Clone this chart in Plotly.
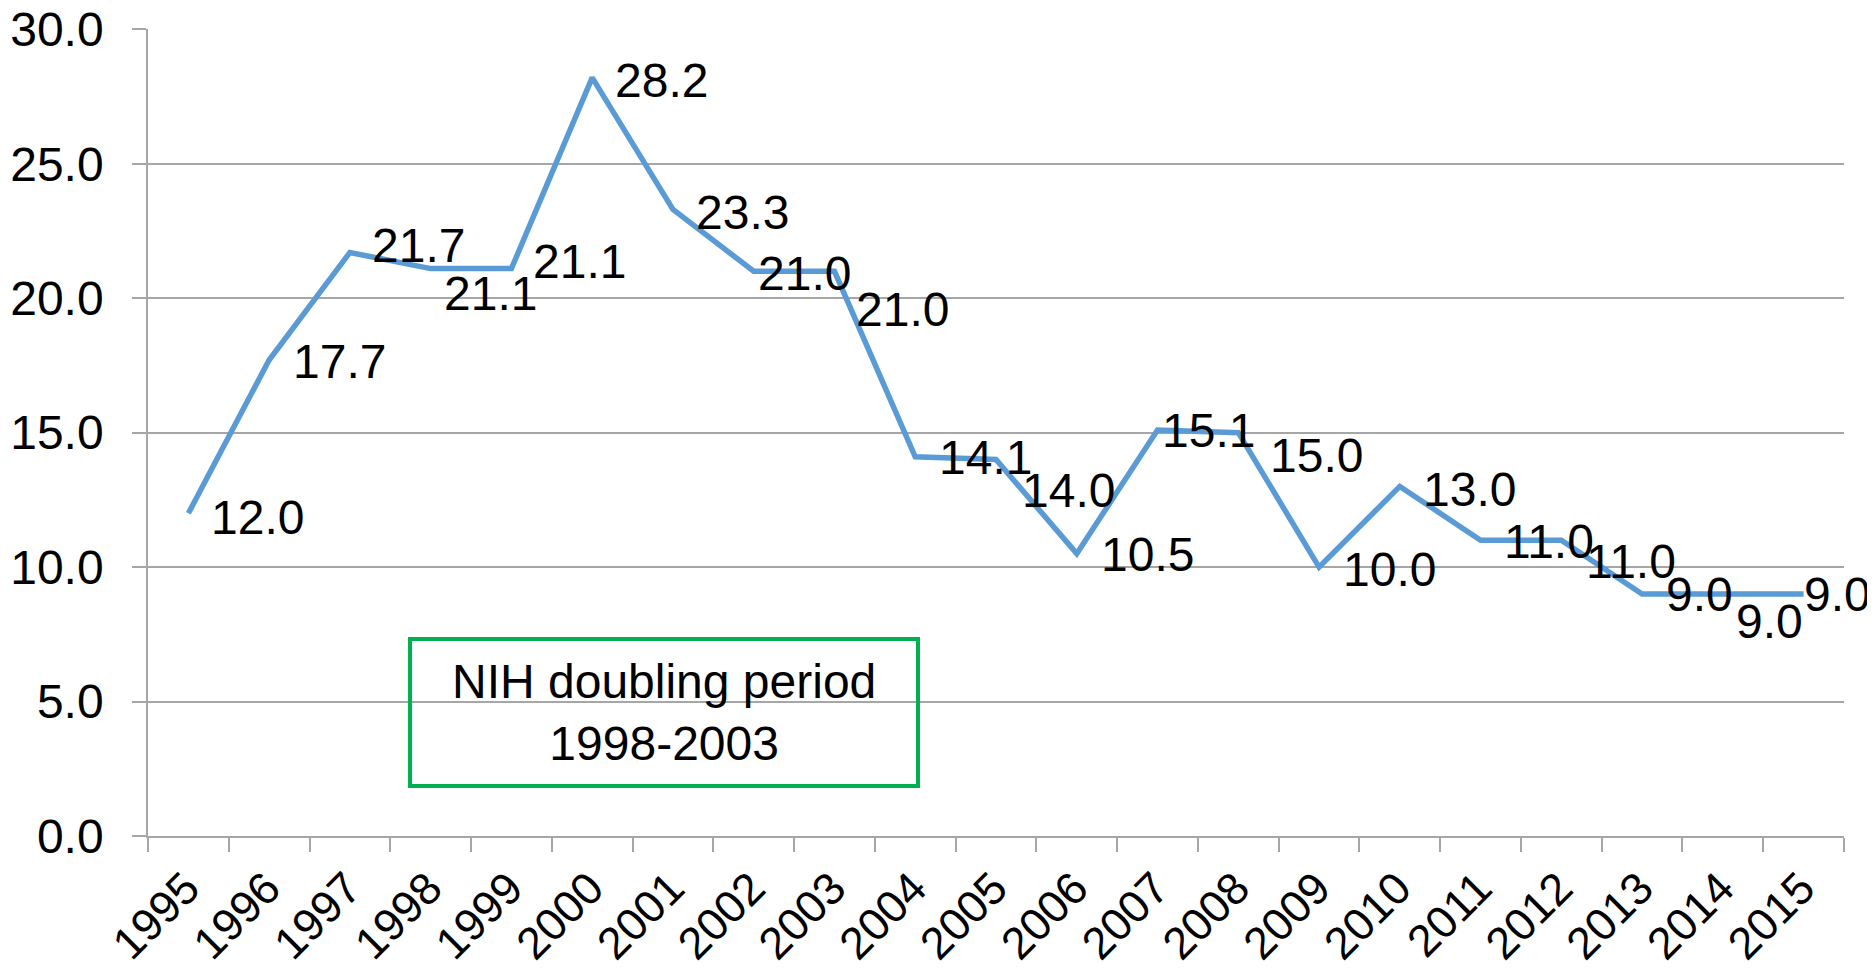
import plotly.graph_objects as go

years = ["1995", "1996", "1997", "1998", "1999", "2000", "2001", "2002", "2003", "2004",
         "2005", "2006", "2007", "2008", "2009", "2010", "2011", "2012", "2013", "2014", "2015"]
values = [12.0, 17.7, 21.7, 21.1, 21.1, 28.2, 23.3, 21.0, 21.0, 14.1,
          14.0, 10.5, 15.1, 15.0, 10.0, 13.0, 11.0, 11.0, 9.0, 9.0, 9.0]
y_ticks = [0, 5, 10, 15, 20, 25, 30]
box_text = "NIH doubling period<br>1998-2003"

# label placement offsets (pixels): right of the point, positive dy = down
label_dx = [21, 22, 20, 11, 20, 21, 21, 2, 20, 22, 24, 22, 2, 30, 22, 21, 21, 23, 22, 11, -2]
label_dy = [4, 1, -7, 25, -7, 3, 3, 2, 38, 1, 31, 1, 1, 23, 2, 3, 1, 21, 1, 28, 1]

FONT = "Liberation Sans, Arial, sans-serif"
GRID = "#A6A6A6"
FS = 48

fig = go.Figure()
fig.add_trace(go.Scatter(
    x=years, y=values, mode="lines",
    line=dict(color="#5B9BD5", width=5.5),
    hoverinfo="x+y", showlegend=False,
))

annotations = []
for i, (v, dx, dy) in enumerate(zip(values, label_dx, label_dy)):
    annotations.append(dict(
        x=i, y=v, xref="x", yref="y", text=f"{v:.1f}", showarrow=False,
        xanchor="left", yanchor="middle", xshift=dx, yshift=-dy,
        font=dict(family=FONT, size=FS, color="#000000"),
    ))

annotations.append(dict(
    x=0.3042, y=0.153, xref="paper", yref="paper", text=box_text, showarrow=False,
    xanchor="center", yanchor="middle", align="center",
    font=dict(family=FONT, size=48, color="#000000"),
))

fig.add_shape(type="rect", xref="paper", yref="paper",
              x0=0.1545, x1=0.454, y0=0.062, y1=0.244,
              line=dict(color="#00B050", width=4), fillcolor="rgba(0,0,0,0)")

fig.update_layout(
    width=1867, height=965,
    margin=dict(l=140, r=31, t=21, b=137),
    paper_bgcolor="white", plot_bgcolor="white",
    font=dict(family=FONT, size=FS, color="#000000"),
    annotations=annotations,
    xaxis=dict(
        type="category", tickson="boundaries", ticks="outside", ticklen=14,
        tickcolor=GRID, tickwidth=1.5, showline=True, linecolor=GRID, linewidth=1.5,
        showgrid=False, tickangle=-45, tickfont=dict(family=FONT, size=45, color="#000000"),
        range=[-0.5, 20.5], ticklabelstandoff=6, ticklabelshift=-2, automargin=False,
    ),
    yaxis=dict(
        range=[0, 30.01], tickvals=y_ticks, ticktext=[f"{t:.1f}" for t in y_ticks],
        ticks="outside", ticklen=14, tickcolor=GRID, tickwidth=1.5,
        showline=True, linecolor=GRID, linewidth=1.5,
        showgrid=True, gridcolor=GRID, gridwidth=1.5, zeroline=False,
        tickfont=dict(family=FONT, size=FS, color="#000000"), ticklabelstandoff=19,
        ticklabeloverflow="allow", automargin=False,
    ),
)

fig.write_html("out.html")
